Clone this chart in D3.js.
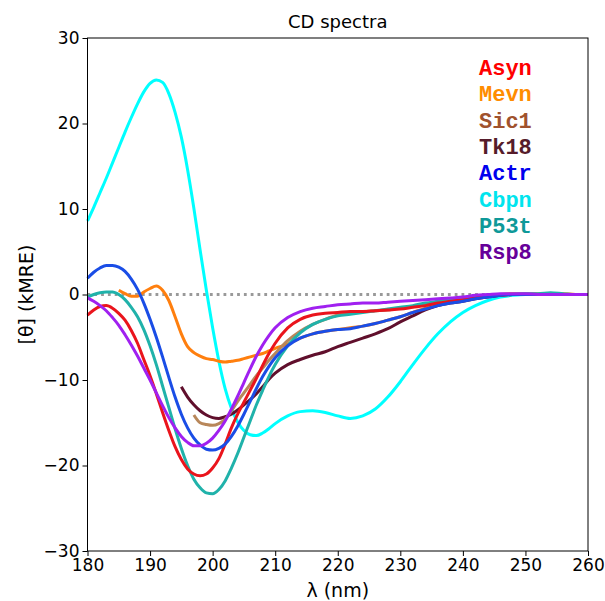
<!DOCTYPE html>
<html>
<head>
<meta charset="utf-8">
<script src="https://cdn.jsdelivr.net/npm/d3@7"></script>
<style>
  body { margin: 0; background: #fff; }
  svg { display: block; }
</style>
</head>
<body>
<svg id="chart" width="605" height="601"></svg>
<script>
// wavelength grid (nm)
const wavelengths = [180,181,182,183,184,185,186,187,188,189,190,191,192,193,194,195,196,197,198,199,200,
  201,202,203,204,205,206,207,208,209,210,212,214,216,218,220,222,224,226,228,230,232,234,236,238,240,
  242,244,246,248,250,252,254,256,258,260];

const asyn = [-2.4,-1.8,-1.4,-1.3,-1.6,-2.2,-3.0,-4.2,-5.7,-7.6,-9.5,-11.6,-13.8,-15.9,-17.8,-19.3,-20.4,-21.0,-21.2,-21.0,-20.3,
  -19.2,-17.5,-15.6,-14.0,-12.6,-11.2,-9.8,-8.3,-6.9,-5.7,-3.9,-2.9,-2.4,-2.2,-2.1,-2.0,-2.0,-1.9,-1.8,-1.7,-1.5,-1.3,-1.0,-0.8,-0.6,
  -0.4,-0.2,-0.1,0.0,0.0,0.0,0.0,0.0,0.0,0.0];
const mevn = [null,null,null,null,null,0.5,0.1,-0.2,-0.2,0.3,0.7,1.0,0.5,-0.7,-2.6,-4.6,-6.1,-6.8,-7.2,-7.5,-7.6,
  -7.8,-7.9,-7.8,-7.7,-7.5,-7.3,-7.1,-6.9,-6.6,-6.3,-5.8,-5.1,-4.6,-4.3,-4.1,-3.9,-3.7,-3.4,-3.0,-2.6,-2.1,-1.6,-1.2,-0.9,-0.6,
  -0.4,-0.2,0.0,0.1,0.1,0.1,0.1,0.1,0.0,0.0];
const sic1 = [null,null,null,null,null,null,null,null,null,null,null,null,null,null,null,null,null,-14.1,-15.0,-15.2,-15.3,
  -15.1,-14.6,-13.6,-12.5,-11.5,-10.5,-9.5,-8.6,-7.7,-6.9,-5.4,-4.3,-3.5,-2.9,-2.4,-2.1,-2.0,-1.9,-1.8,-1.6,-1.4,-1.2,-0.9,-0.7,-0.5,
  -0.3,-0.1,0.0,0.0,0.0,0.0,0.0,0.0,0.0,0.0];
const tk18 = [null,null,null,null,null,null,null,null,null,null,null,null,null,null,null,-10.8,-12.0,-12.9,-13.6,-14.1,-14.4,
  -14.5,-14.3,-14.0,-13.5,-12.9,-12.3,-11.6,-10.8,-9.9,-9.2,-8.2,-7.6,-7.1,-6.7,-6.1,-5.6,-5.1,-4.6,-4.0,-3.2,-2.5,-1.8,-1.3,-1.0,-0.8,
  -0.5,-0.3,-0.1,0.0,0.0,0.0,0.0,0.0,0.0,0.0];
const actr = [1.9,2.6,3.1,3.4,3.4,3.2,2.7,1.8,0.6,-1.0,-2.9,-5.0,-7.3,-9.7,-12.0,-14.0,-15.6,-16.8,-17.6,-18.1,-18.2,
  -18.0,-17.5,-16.6,-15.4,-14.0,-12.5,-11.0,-9.6,-8.4,-7.4,-6.0,-5.1,-4.6,-4.3,-4.1,-4.0,-3.7,-3.4,-3.0,-2.6,-2.1,-1.7,-1.3,-1.0,-0.8,
  -0.5,-0.3,-0.1,0.0,0.0,0.0,0.0,0.0,0.0,0.0];
const cbpn = [8.6,10.2,11.9,13.6,15.4,17.2,19.0,20.7,22.3,23.7,24.7,25.1,24.8,23.5,21.3,18.4,14.6,10.1,5.2,0.5,-3.9,
  -7.8,-11.0,-13.3,-14.9,-15.9,-16.4,-16.5,-16.2,-15.7,-15.1,-14.2,-13.7,-13.6,-13.8,-14.2,-14.5,-14.2,-13.4,-12.0,-10.2,-8.2,-6.3,-4.6,-3.2,-2.1,
  -1.3,-0.7,-0.3,-0.1,0.0,0.0,0.0,0.0,0.0,0.0];
const p53t = [-0.3,0.0,0.2,0.3,0.3,0.0,-0.6,-1.5,-2.6,-4.1,-6.0,-8.2,-10.7,-13.2,-15.7,-18.0,-20.0,-21.6,-22.6,-23.2,-23.3,
  -22.8,-21.8,-20.3,-18.6,-16.7,-14.8,-12.9,-11.2,-9.6,-8.2,-6.0,-4.5,-3.5,-2.9,-2.5,-2.3,-2.1,-1.9,-1.7,-1.5,-1.3,-1.0,-0.8,-0.6,-0.4,
  -0.2,-0.1,0.0,0.0,0.1,0.1,0.2,0.1,0.0,0.0];
const rsp8 = [-0.4,-0.8,-1.3,-1.9,-2.7,-3.6,-4.7,-5.9,-7.2,-8.6,-10.0,-11.5,-13.0,-14.4,-15.6,-16.6,-17.3,-17.7,-17.7,-17.4,-16.8,
  -15.9,-14.8,-13.4,-11.9,-10.3,-8.7,-7.2,-5.9,-4.8,-3.9,-2.7,-2.0,-1.6,-1.4,-1.2,-1.1,-1.0,-1.0,-0.9,-0.8,-0.7,-0.6,-0.5,-0.4,-0.3,
  -0.1,0.0,0.1,0.1,0.1,0.0,0.0,0.0,0.0,0.0];

const seriesNames = ["Asyn", "Mevn", "Sic1", "Tk18", "Actr", "Cbpn", "P53t", "Rsp8"];
const seriesValues = [asyn, mevn, sic1, tk18, actr, cbpn, p53t, rsp8];
// drawing order (Cbpn under the rest, Rsp8 on top as in the figure)
const drawOrder = ["Cbpn", "Mevn", "Tk18", "Sic1", "P53t", "Asyn", "Actr", "Rsp8"];

const lineColors = ["#ea141c", "#ff7f0e", "#b8875a", "#600f2c", "#1a4de6", "#00ffff", "#20b2aa", "#a020f0"];
const legendColors = ["#ff0000", "#ff8c00", "#a0522d", "#561c2b", "#0000ee", "#00e5ee", "#0e9999", "#660099"];

const xTicks = [180, 190, 200, 210, 220, 230, 240, 250, 260];
const yTicks = [-30, -20, -10, 0, 10, 20, 30];

const margin = {top: 38, right: 17, bottom: 50, left: 87.5},
    width = 605,
    height = 601;

const xScale = d3.scaleLinear().domain([180, 260]).range([margin.left, width - margin.right]);
const yScale = d3.scaleLinear().domain([-30, 30]).range([height - margin.bottom, margin.top]);

const svg = d3.select("#chart");
const font = "'DejaVu Sans', sans-serif";

// zero reference line
svg.append("line")
    .attr("x1", xScale(180)).attr("x2", xScale(260))
    .attr("y1", yScale(0)).attr("y2", yScale(0))
    .attr("stroke", "#999")
    .attr("stroke-width", 2.8)
    .attr("stroke-dasharray", "2.8 4")

const lineGen = d3.line()
    .defined(d => d.v !== null)
    .x(d => xScale(d.w))
    .y(d => yScale(d.v))
    .curve(d3.curveMonotoneX);

const plot = svg.append("g");
drawOrder.forEach(name => {
    const i = seriesNames.indexOf(name);
    const pts = wavelengths.map((w, j) => ({w: w, v: seriesValues[i][j]}));
    plot.append("path")
        .attr("d", lineGen(pts))
        .attr("fill", "none")
        .attr("stroke", lineColors[i])
        .attr("stroke-width", 3)
        .attr("stroke-linejoin", "round");
});

// axes
const xAxis = svg.append("g")
    .attr("transform", `translate(0, ${height - margin.bottom})`)
    .call(d3.axisBottom(xScale).tickValues(xTicks).tickSize(5).tickPadding(3).tickSizeOuter(0));
const yAxis = svg.append("g")
    .attr("transform", `translate(${margin.left}, 0)`)
    .call(d3.axisLeft(yScale).tickValues(yTicks).tickSize(5).tickPadding(3).tickSizeOuter(0));
[xAxis, yAxis].forEach(ax => {
    ax.select(".domain").remove();
    ax.selectAll("text").attr("font-size", 17).attr("font-family", font).attr("fill", "#000");
    ax.selectAll("line").attr("stroke", "#000").attr("stroke-width", 1);
});

// frame
svg.append("rect")
    .attr("x", margin.left).attr("y", margin.top)
    .attr("width", width - margin.right - margin.left)
    .attr("height", height - margin.bottom - margin.top)
    .attr("fill", "none")
    .attr("stroke", "#000")
    .attr("stroke-width", 1);

// title and labels
svg.append("text")
    .attr("x", (margin.left + width - margin.right) / 2)
    .attr("y", 28)
    .attr("text-anchor", "middle")
    .attr("font-family", font)
    .attr("font-size", 18)
    .text("CD spectra");

svg.append("text")
    .attr("x", (margin.left + width - margin.right) / 2)
    .attr("y", 597)
    .attr("text-anchor", "middle")
    .attr("font-family", font)
    .attr("font-size", 19)
    .text("λ (nm)");

svg.append("text")
    .attr("transform", `translate(33, ${(margin.top + height - margin.bottom) / 2}) rotate(-90)`)
    .attr("text-anchor", "middle")
    .attr("font-family", font)
    .attr("font-size", 19)
    .text("[θ] (kMRE)");

// legend (text only, coloured)
svg.selectAll(".legend")
    .data(seriesNames)
    .join("text")
    .attr("class", "legend")
    .attr("x", 479)
    .attr("y", (d, i) => 75 + i * 26.3)
    .attr("font-family", "'Liberation Mono', 'Courier New', monospace")
    .attr("font-weight", "bold")
    .attr("font-size", 22)
    .attr("fill", (d, i) => legendColors[i])
    .text(d => d);
</script>
</body>
</html>
